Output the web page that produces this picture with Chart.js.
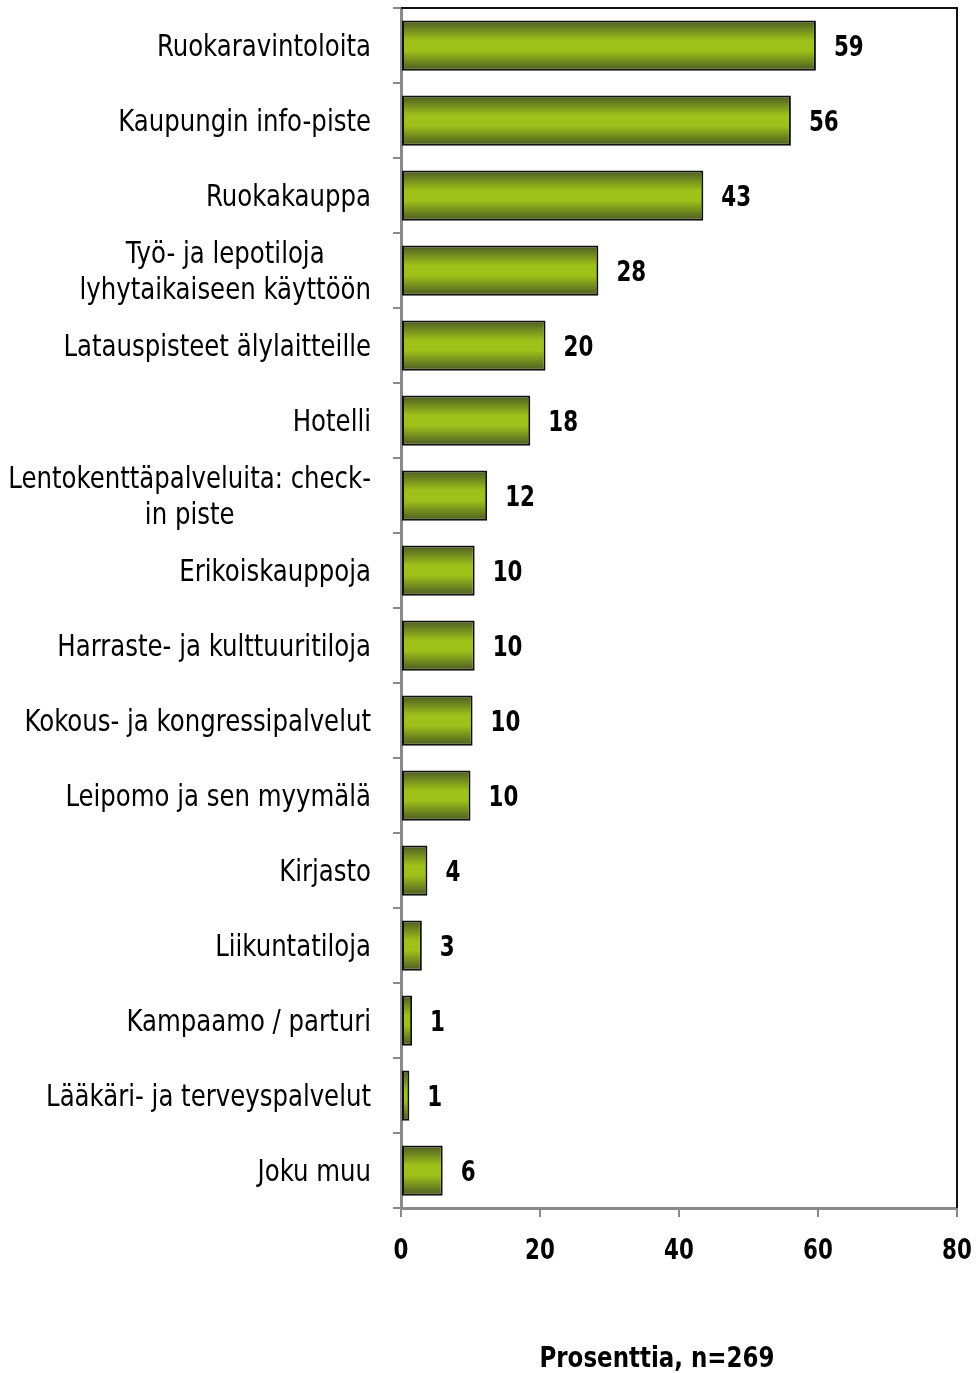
<!DOCTYPE html>
<html>
<head>
<meta charset="utf-8">
<script src="https://cdn.jsdelivr.net/npm/chart.js@4.4.1/dist/chart.umd.min.js"></script>
<style>
  html, body { margin: 0; padding: 0; background: #fff; }
  #wrap { width: 976px; height: 1373px; }
</style>
</head>
<body>
<div id="wrap"><canvas id="chart"></canvas></div>
<script>
// ===============================
// DATA
// ===============================

const categories = [
    "Ruokaravintoloita",
    "Kaupungin info-piste",
    "Ruokakauppa",
    ["Työ- ja lepotiloja", "lyhytaikaiseen käyttöön"],
    "Latauspisteet älylaitteille",
    "Hotelli",
    ["Lentokenttäpalveluita: check-", "in piste"],
    "Erikoiskauppoja",
    "Harraste- ja kulttuuritiloja",
    "Kokous- ja kongressipalvelut",
    "Leipomo ja sen myymälä",
    "Kirjasto",
    "Liikuntatiloja",
    "Kampaamo / parturi",
    "Lääkäri- ja terveyspalvelut",
    "Joku muu"
];

// bar lengths
const values = [59.7, 56.1, 43.5, 28.4, 20.8, 18.6, 12.4, 10.6, 10.6, 10.3, 10.0, 3.8, 3.0, 1.6, 1.2, 6.0];

// numbers printed next to the bars
const valueLabels = ["59", "56", "43", "28", "20", "18", "12", "10", "10", "10", "10", "4", "3", "1", "1", "6"];

const xTicks = [0, 20, 40, 60, 80];
const axisTitle = "Prosenttia, n=269";

const FONT = "'DejaVu Sans Condensed', 'Liberation Sans Narrow', sans-serif";
const BAR_PCT = 0.67;

// ===============================
// HELPERS
// ===============================

// narrow text by squeezing it horizontally
function squeezeText(ctx, text, x, y, sx){
    ctx.save();
    ctx.translate(x, y);
    ctx.scale(sx, 1);
    ctx.fillText(text, 0, 0);
    ctx.restore();
}

function barFill(c){
    const chart = c.chart;
    const y = chart.scales.y;
    if (!chart.chartArea || !y) return "#9ec21a";
    const cy = y.getPixelForValue(c.dataIndex);
    const half = (y.getPixelForValue(1) - y.getPixelForValue(0)) * BAR_PCT / 2;
    const g = chart.ctx.createLinearGradient(0, cy - half, 0, cy + half);
    g.addColorStop(0, "#4a5a22");
    g.addColorStop(0.4, "#9fc21a");
    g.addColorStop(0.6, "#9fc21a");
    g.addColorStop(1, "#4a5a22");
    return g;
}

// ===============================
// EXTRA DRAWING
// ===============================

const extras = {
    id: "extras",
    afterDraw(chart){
        const ctx = chart.ctx;
        const area = chart.chartArea;
        const x = chart.scales.x;
        const y = chart.scales.y;

        ctx.save();

        // top + right frame
        ctx.strokeStyle = "#111";
        ctx.lineWidth = 2;
        ctx.beginPath();
        ctx.moveTo(area.left, area.top);
        ctx.lineTo(area.right, area.top);
        ctx.lineTo(area.right, area.bottom);
        ctx.stroke();

        ctx.fillStyle = "#000";
        ctx.textBaseline = "middle";

        // category labels (lines centred on each other, block right aligned)
        const catSx = 0.905;
        ctx.font = "30px " + FONT;
        ctx.textAlign = "center";
        const rightEdge = 371;
        const lineH = 36;
        categories.forEach((cat, i) => {
            const lines = Array.isArray(cat) ? cat : [cat];
            const w = Math.max(...lines.map(l => ctx.measureText(l).width)) * catSx;
            const cx = rightEdge - w / 2;
            const cy = y.getPixelForValue(i) + 3;
            lines.forEach((l, k) => {
                squeezeText(ctx, l, cx, cy + (k - (lines.length - 1) / 2) * lineH, catSx);
            });
        });

        // value labels
        ctx.font = "bold 29px " + FONT;
        ctx.textAlign = "left";
        chart.getDatasetMeta(0).data.forEach((bar, i) => {
            squeezeText(ctx, valueLabels[i], bar.x + 18, bar.y + 3, 0.82);
        });

        // x tick labels
        ctx.textAlign = "center";
        xTicks.forEach(v => {
            squeezeText(ctx, String(v), x.getPixelForValue(v), 1251, 0.82);
        });

        // axis title
        squeezeText(ctx, axisTitle, 657, 1359, 0.88);

        ctx.restore();
    }
};

// ===============================
// CHART
// ===============================

new Chart(document.getElementById("chart"), {
    type: "bar",
    data: {
        labels: categories,
        datasets: [{
            data: values,
            backgroundColor: barFill,
            borderColor: "#111",
            borderWidth: 2,
            borderSkipped: false,
            barPercentage: BAR_PCT,
            categoryPercentage: 1
        }]
    },
    options: {
        indexAxis: "y",
        responsive: true,
        maintainAspectRatio: false,
        animation: false,
        layout: {
            padding: { top: 8, right: 19, left: 0, bottom: 0 }
        },
        plugins: {
            legend: { display: false },
            tooltip: { enabled: false }
        },
        scales: {
            x: {
                min: 0,
                max: 80,
                afterBuildTicks(s){
                    s.ticks = xTicks.map(v => ({ value: v }));
                },
                afterFit(s){
                    s.height = 165;
                    s.paddingLeft = 0;
                    s.paddingRight = 0;
                },
                border: { color: "#8a8a8a", width: 3 },
                grid: {
                    drawOnChartArea: false,
                    color: "#8a8a8a",
                    lineWidth: 2,
                    tickLength: 9
                },
                ticks: { display: false }
            },
            y: {
                afterFit(s){
                    s.width = 401;
                    s.paddingTop = 0;
                    s.paddingBottom = 0;
                },
                border: { color: "#8a8a8a", width: 3 },
                grid: {
                    offset: true,
                    drawOnChartArea: false,
                    color: "#8a8a8a",
                    lineWidth: 2,
                    tickLength: 8
                },
                ticks: { display: false }
            }
        }
    },
    plugins: [extras]
});
</script>
</body>
</html>
